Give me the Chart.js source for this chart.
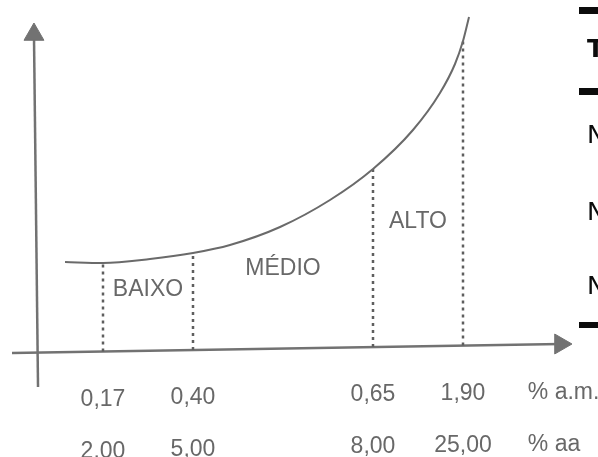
<!DOCTYPE html>
<html>
<head>
<meta charset="utf-8">
<script src="https://cdn.jsdelivr.net/npm/chart.js@4/dist/chart.umd.min.js"></script>
<style>
html,body{margin:0;padding:0;background:#fff;overflow:hidden}
#wrap{position:relative;width:598px;height:457px}
</style>
</head>
<body>
<div id="wrap"><canvas id="c" width="598" height="457"></canvas></div>
<script>
// ---- data ----
const zoneNames   = ['BAIXO', 'MÉDIO', 'ALTO'];
const boundaryX   = [1, 2, 4, 5];
const rateMonthly = ['0,17', '0,40', '0,65', '1,90'];
const rateAnnual  = ['2.00', '5,00', '8,00', '25,00'];
const unitLabels  = ['% a.m.', '% aa'];
const curveX      = [0.578, 1, 1.522, 2, 2.411, 2.967, 3.522, 4, 4.444, 4.744, 4.911, 5, 5.067];
const curveY      = [8.8, 8.7, 9.1, 9.7, 10.5, 12.3, 15.0, 18.1, 22.0, 25.7, 28.6, 30.9, 33.3];
const tableLabels = ['T', 'N', 'N', 'N'];

// ---- layout / style constants ----
const X_MIN = -0.1444, X_MAX = 6.5, Y_MIN = -10.7, Y_MAX = 35.0;
const H_AXIS = [{x: -0.011, y: -0.3}, {x: 6.083, y: 0.6}];
const V_AXIS = [{x: 0.278, y: -3.7}, {x: 0.233, y: 31.55}];
const ZONE_LABEL_Y = [5.4, 7.5, 12.2];
const UNIT_X = 5.72;
const ROW_OFFSET = [54, 106];
const LINE_GRAY = '#727272';
const DASH_GRAY = '#5e5e5e';
const TEXT_GRAY = '#686868';
const FONT = '"Liberation Sans", Arimo, Arial, sans-serif';

function axisYAt(xv) {
  const [a, b] = H_AXIS;
  return a.y + (b.y - a.y) * (xv - a.x) / (b.x - a.x);
}
function curveAt(xv) {
  const i = curveX.indexOf(xv);
  return curveY[i];
}

const curveData = curveX.map((xv, i) => ({x: xv, y: curveY[i]}));

const boundarySets = boundaryX.map(b => ({
  label: 'limite ' + b,
  data: [{x: b, y: axisYAt(b)}, {x: b, y: curveAt(b)}],
  showLine: true,
  borderColor: DASH_GRAY,
  borderWidth: 2.5,
  borderDash: [3, 4],
  pointRadius: 0,
  clip: false
}));

const sceneText = {
  id: 'sceneText',
  afterDatasetsDraw(chart) {
    const {ctx, scales: {x, y}} = chart;
    ctx.save();
    ctx.fillStyle = TEXT_GRAY;
    ctx.font = '23px ' + FONT;
    ctx.textBaseline = 'alphabetic';
    ctx.textAlign = 'center';
    zoneNames.forEach((n, i) => {
      const cx = (boundaryX[i] + boundaryX[i + 1]) / 2;
      ctx.fillText(n, x.getPixelForValue(cx), y.getPixelForValue(ZONE_LABEL_Y[i]));
    });
    [rateMonthly, rateAnnual].forEach((row, r) => {
      row.forEach((t, i) => {
        const b = boundaryX[i];
        ctx.fillText(t, x.getPixelForValue(b), y.getPixelForValue(axisYAt(b)) + ROW_OFFSET[r]);
      });
    });
    ctx.textAlign = 'left';
    unitLabels.forEach((t, r) => {
      ctx.fillText(t, x.getPixelForValue(UNIT_X), y.getPixelForValue(axisYAt(UNIT_X)) + ROW_OFFSET[r]);
    });
    // fragment of the neighbouring table on the right edge
    ctx.fillStyle = '#0c0c0c';
    ctx.fillRect(579, 7, 19, 7);
    ctx.fillRect(579, 88, 19, 7);
    ctx.fillRect(579, 322, 19, 6);
    const rowsY = [57, 143, 220, 294];
    tableLabels.forEach((t, i) => {
      ctx.font = (i === 0 ? 'bold ' : '') + '25px "DejaVu Sans", sans-serif';
      ctx.fillText(t, 587, rowsY[i]);
    });
    ctx.restore();
  }
};

new Chart(document.getElementById('c'), {
  type: 'scatter',
  data: {
    datasets: [
      {
        label: 'curva',
        data: curveData,
        showLine: true,
        borderColor: '#6a6a6a',
        borderWidth: 2,
        cubicInterpolationMode: 'monotone',
        pointRadius: 0,
        clip: false
      },
      ...boundarySets,
      {
        label: 'eixo x',
        data: H_AXIS,
        showLine: true,
        borderColor: LINE_GRAY,
        borderWidth: 2.5,
        pointStyle: 'triangle',
        pointRadius: [0, 11.5],
        pointRotation: [0, 90],
        pointBackgroundColor: LINE_GRAY,
        pointBorderColor: LINE_GRAY,
        pointBorderWidth: 1,
        clip: false
      },
      {
        label: 'eixo y',
        data: V_AXIS,
        showLine: true,
        borderColor: LINE_GRAY,
        borderWidth: 2.5,
        pointStyle: 'triangle',
        pointRadius: [0, 11.5],
        pointRotation: [0, 0],
        pointBackgroundColor: LINE_GRAY,
        pointBorderColor: LINE_GRAY,
        pointBorderWidth: 1,
        clip: false
      }
    ]
  },
  options: {
    responsive: false,
    animation: false,
    layout: {padding: 0, autoPadding: false},
    events: [],
    scales: {
      x: {type: 'linear', min: X_MIN, max: X_MAX, display: false},
      y: {type: 'linear', min: Y_MIN, max: Y_MAX, display: false}
    },
    plugins: {legend: {display: false}, tooltip: {enabled: false}}
  },
  plugins: [sceneText]
});
</script>
</body>
</html>
